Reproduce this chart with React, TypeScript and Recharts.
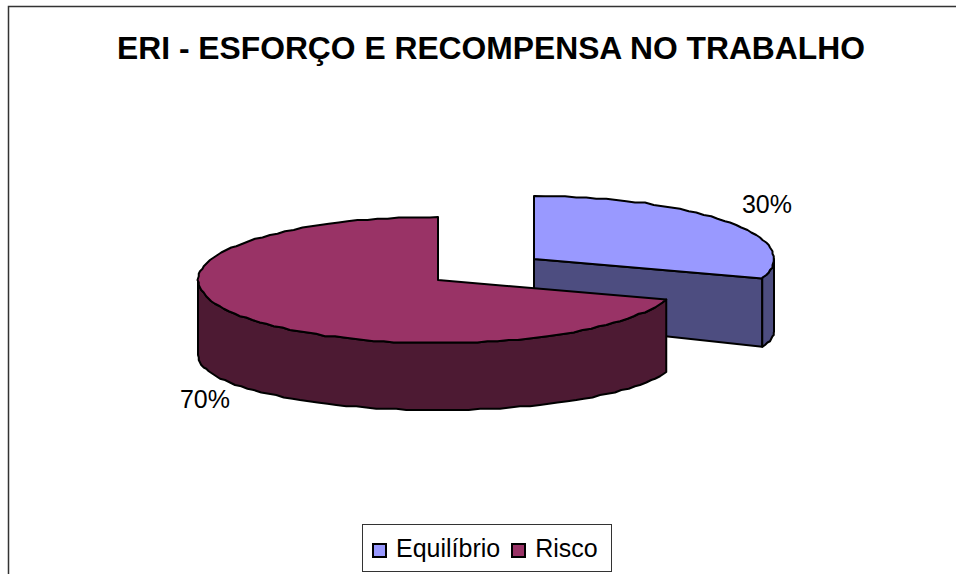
import React from 'react';
import { PieChart, Pie, Legend } from 'recharts';

const TITLE = 'ERI - ESFORÇO E RECOMPENSA NO TRABALHO';
const categories = ['Equilíbrio', 'Risco'];
const values = [30, 70];
const topColors = ['#9999ff', '#993366'];
const sideColors = ['#4d4d80', '#4d1a33'];

// explode offset and the depth of the extruded rim, per slice
const shifts = [
  { dx: 96, dy: -21, depth: 73, bottomRy: 48, apexDepth: 63 },
  { dx: 0, dy: 0, depth: 75, bottomRy: 55, apexDepth: 75 },
];

const FONT = '"Liberation Sans", Arial, sans-serif';
const TILT = 63 / 240;
const RADIAN = Math.PI / 180;
const ARC_STEP = 2.5;
const SNAP = 1.25;

const data = categories.map((name, i) => ({ name, value: values[i], fill: topColors[i], idx: i }));

// the original's curves are coarse polylines, so snap the sampled arc to a grid
const arcPoints = (fn: (a: number) => number[], from: number, to: number) => {
  const pts: string[] = [];
  const dir = to < from ? -1 : 1;
  for (let a = from + dir * ARC_STEP; dir * (to - a) > 0; a += dir * ARC_STEP) {
    const [x, y] = fn(a);
    pts.push(`L${Math.round(x / SNAP) * SNAP} ${Math.round(y / SNAP) * SNAP}`);
  }
  const [ex, ey] = fn(to);
  pts.push(`L${ex} ${ey}`);
  return pts.join(' ');
};

const PieSlice3D = (props: any) => {
  const { cx, cy, outerRadius, startAngle, endAngle, payload } = props;
  const idx = payload.idx;
  const s = shifts[idx];
  const x0 = cx + s.dx;
  const y0 = cy + s.dy;
  const rx = outerRadius;
  const ry = outerRadius * TILT;
  const y1 = y0 + s.depth;

  const top = (a: number) => [x0 + rx * Math.cos(a * RADIAN), y0 - ry * Math.sin(a * RADIAN)];
  const bot = (a: number) => [x0 + rx * Math.cos(a * RADIAN), y1 - s.bottomRy * Math.sin(a * RADIAN)];

  const [sx, sy] = top(startAngle);
  const [ex, ey] = top(endAngle);
  const topPath = `M${x0} ${y0} L${sx} ${sy} ${arcPoints(top, startAngle, endAngle)} Z`;

  // only the lower half of the rim faces the viewer
  const rimFrom = Math.min(startAngle, 0);
  const rimTo = Math.max(endAngle, -180);
  const [ax, ay] = top(rimFrom);
  const [dx2, dy2] = bot(rimTo);
  const rimPath = `M${ax} ${ay} ${arcPoints(top, rimFrom, rimTo)} L${dx2} ${dy2} ${arcPoints(bot, rimTo, rimFrom)} Z`;

  const showFace = Math.sin(endAngle * RADIAN) < 0;
  const [fx, fy] = bot(endAngle);
  const facePath = `M${x0} ${y0} L${ex} ${ey} L${fx} ${fy} L${x0} ${y0 + s.apexDepth} Z`;

  const line = { stroke: '#000', strokeWidth: 2, strokeLinejoin: 'round' as const };
  return (
    <g>
      {showFace && <path d={facePath} fill={sideColors[idx]} {...line} />}
      <path d={rimPath} fill={sideColors[idx]} {...line} />
      <path d={topPath} fill={topColors[idx]} {...line} />
    </g>
  );
};

const renderLabel = (props: any) => {
  const { cx, cy, midAngle, outerRadius, percent, payload } = props;
  const s = shifts[payload.idx];
  const sin = Math.sin(midAngle * RADIAN);
  const x = cx + s.dx + outerRadius * 1.2 * Math.cos(midAngle * RADIAN);
  const y = cy + s.dy - outerRadius * TILT * 1.2 * sin + (sin < 0 ? s.depth : -11);
  return (
    <text x={x} y={y} textAnchor="middle" dominantBaseline="central" fontFamily={FONT} fontSize={25} fill="#000">
      {`${Math.round(percent * 100)}%`}
    </text>
  );
};

const renderLegend = (props: any) => (
  <div
    style={{
      boxSizing: 'border-box',
      width: 250,
      height: 48,
      border: '1.5px solid #333',
      background: '#fff',
      display: 'flex',
      alignItems: 'center',
      paddingLeft: 9,
      fontFamily: FONT,
      fontSize: 25,
      color: '#000',
    }}
  >
    {props.payload.map((entry: any) => (
      <span key={entry.value} style={{ display: 'inline-flex', alignItems: 'center', marginRight: 11 }}>
        <span
          style={{
            display: 'inline-block',
            boxSizing: 'border-box',
            width: 15,
            height: 15,
            marginRight: 9,
            marginTop: 5,
            background: entry.color,
            border: '2px solid #000',
          }}
        />
        {entry.value}
      </span>
    ))}
  </div>
);

export default function App() {
  return (
    <div style={{ position: 'absolute', left: 0, top: 0, width: 956, height: 574, overflow: 'hidden' }}>
      <PieChart width={956} height={574} margin={{ top: 0, right: 0, bottom: 0, left: 0 }}>
        <rect x={8.5} y={6.5} width={1000} height={1000} fill="#fff" stroke="#333" strokeWidth={1.5} />
        <text x={491} y={59} textAnchor="middle" fontFamily={FONT} fontWeight="bold" fontSize={31.8} fill="#000">
          {TITLE}
        </text>
        <Pie
          data={data}
          dataKey="value"
          nameKey="name"
          cx={438}
          cy={280}
          innerRadius={0}
          outerRadius={240}
          startAngle={90}
          endAngle={-270}
          stroke="none"
          labelLine={false}
          label={renderLabel}
          shape={PieSlice3D}
          isAnimationActive={false}
        />
        <Legend content={renderLegend} wrapperStyle={{ left: 362, top: 524, width: 250, height: 48, bottom: 'auto' }} />
      </PieChart>
    </div>
  );
}
